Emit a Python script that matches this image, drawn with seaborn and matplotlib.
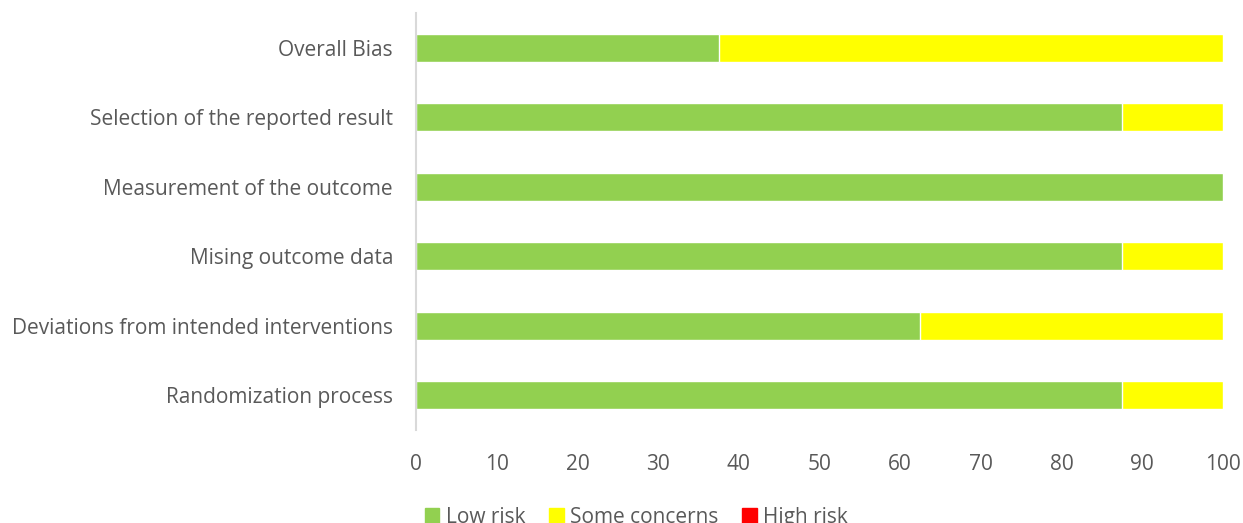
import matplotlib
matplotlib.use("Agg")
import matplotlib.pyplot as plt
from matplotlib.patches import Patch
import seaborn as sns
import pandas as pd

domains = ["Overall Bias", "Selection of the reported result", "Measurement of the outcome",
           "Mising outcome data", "Deviations from intended interventions", "Randomization process"]
low_risk = [37.5, 87.5, 100, 87.5, 62.5, 87.5]
some_concerns = [62.5, 12.5, 0, 12.5, 37.5, 12.5]
high_risk = [0, 0, 0, 0, 0, 0]

green = "#92d050"
yellow = "#ffff00"
red = "#ff0000"
txt = "#595959"

df = pd.DataFrame({"domain": domains, "low": low_risk, "some": some_concerns, "high": high_risk})
df["low_some"] = df["low"] + df["some"]
df["total"] = df["low_some"] + df["high"]

sns.set_style("white")
plt.rcParams["font.family"] = ["Open Sans", "DejaVu Sans"]

fig = plt.figure(figsize=(12.43, 5.23), dpi=100)
ax = fig.add_axes([0.3347, 0.178, 0.6492, 0.797])

# stacked horizontal bars: draw cumulative totals back to front
sns.barplot(data=df, x="total", y="domain", color=red, width=0.4, ax=ax, saturation=1)
sns.barplot(data=df, x="low_some", y="domain", color=yellow, width=0.4, ax=ax, saturation=1)
sns.barplot(data=df, x="low", y="domain", color=green, width=0.4, ax=ax, saturation=1)

ax.set_xlim(0, 100)
ax.set_xticks(range(0, 101, 10))
ax.set_xlabel("")
ax.set_ylabel("")
for s in ["top", "right", "bottom"]:
    ax.spines[s].set_visible(False)
ax.spines["left"].set_color("#d9d9d9")
ax.spines["left"].set_linewidth(1.5)
ax.tick_params(axis="both", length=0, labelsize=15, colors=txt)
ax.tick_params(axis="y", pad=16.5)
ax.tick_params(axis="x", pad=17)

handles = [Patch(color=green, label="Low risk"),
           Patch(color=yellow, label="Some concerns"),
           Patch(color=red, label="High risk")]
leg = fig.legend(handles=handles, loc="lower center", bbox_to_anchor=(0.512, -0.045), ncol=3,
                 frameon=False, fontsize=15, handlelength=0.7, handleheight=0.7,
                 handletextpad=0.3, columnspacing=1.15)
for t in leg.get_texts():
    t.set_color(txt)

fig.savefig("out.png", dpi=100)
